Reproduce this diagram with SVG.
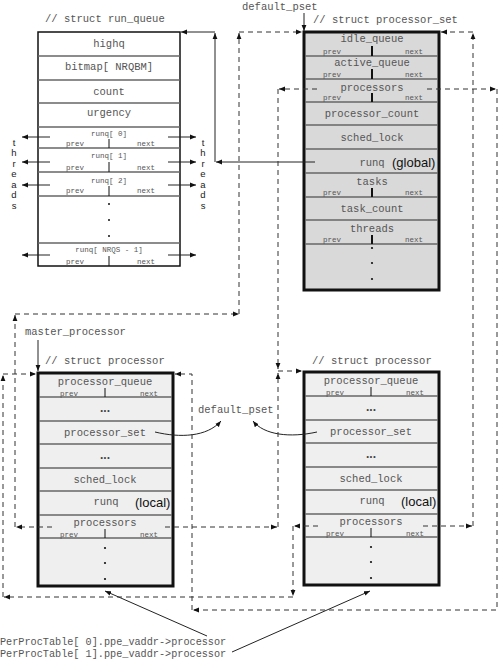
<svg xmlns="http://www.w3.org/2000/svg" width="500" height="661" viewBox="0 0 500 661">
<style>
.m{font-family:"Liberation Mono",monospace;font-size:10.5px;fill:#555;text-anchor:middle}
.s{font-family:"Liberation Mono",monospace;font-size:7.5px;fill:#555}
.c{font-family:"Liberation Mono",monospace;font-size:10.5px;fill:#555}
.b{font-family:"Liberation Sans",sans-serif;font-size:13px;fill:#111}
.t{font-family:"Liberation Sans",sans-serif;font-size:9.5px;fill:#222;text-anchor:middle}
.e{font-family:"Liberation Sans",sans-serif;font-size:12px;font-weight:bold;fill:#444;text-anchor:middle}
.r{stroke:#666;stroke-width:1.5}
.d{stroke:#111;stroke-width:2}
.sl{stroke:#222;stroke-width:1;fill:none}
.dl{stroke:#333;stroke-width:1;fill:none;stroke-dasharray:5 4}
.dot{fill:#111}
</style>
<defs>
<marker id="a" viewBox="0 0 10 10" refX="10" refY="5" markerWidth="6" markerHeight="6" markerUnits="userSpaceOnUse" orient="auto"><path d="M0,1 L10,5 L0,9 z" fill="#111"/></marker>
</defs>

<g id="run_queue">
<text class="c" x="45" y="22">// struct run_queue</text>
<rect x="38" y="32" width="142" height="234" fill="#fff" stroke="#111" stroke-width="1.5"/>
<line class="r" x1="38" y1="56" x2="180" y2="56"/>
<line class="r" x1="38" y1="80" x2="180" y2="80"/>
<line class="r" x1="38" y1="103" x2="180" y2="103"/>
<line class="r" x1="38" y1="127" x2="180" y2="127"/>
<line class="r" x1="38" y1="148" x2="180" y2="148"/>
<line class="r" x1="38" y1="172" x2="180" y2="172"/>
<line class="r" x1="38" y1="196" x2="180" y2="196"/>
<line class="r" x1="38" y1="243" x2="180" y2="243"/>
<text class="m" x="109" y="47">highq</text>
<text class="m" x="109" y="70">bitmap[ NRQBM]</text>
<text class="m" x="109" y="95">count</text>
<text class="m" x="109" y="116">urgency</text>
<text class="s" x="109" y="136" text-anchor="middle">runq[ 0]</text>
<text class="s" x="66" y="146">prev</text><text class="s" x="155" y="146" text-anchor="end">next</text>
<line x1="109" y1="139" x2="109" y2="148" stroke="#111" stroke-width="1"/>
<text class="s" x="109" y="158" text-anchor="middle">runq[ 1]</text>
<text class="s" x="66" y="170">prev</text><text class="s" x="155" y="170" text-anchor="end">next</text>
<line x1="109" y1="162" x2="109" y2="172" stroke="#111" stroke-width="1"/>
<text class="s" x="109" y="183" text-anchor="middle">runq[ 2]</text>
<text class="s" x="66" y="193">prev</text><text class="s" x="155" y="193" text-anchor="end">next</text>
<line x1="109" y1="186" x2="109" y2="196" stroke="#111" stroke-width="1"/>
<circle class="dot" cx="109" cy="204" r="1"/><circle class="dot" cx="109" cy="220" r="1"/><circle class="dot" cx="109" cy="236" r="1"/>
<text class="s" x="109" y="252" text-anchor="middle">runq[ NRQS - 1]</text>
<text class="s" x="66" y="264">prev</text><text class="s" x="155" y="264" text-anchor="end">next</text>
<line x1="109" y1="256" x2="109" y2="266" stroke="#111" stroke-width="1"/>
<text class="t" x="14" y="145.5">t</text><text class="t" x="14" y="156">h</text><text class="t" x="14" y="166.5">r</text><text class="t" x="14" y="177">e</text><text class="t" x="14" y="187.5">a</text><text class="t" x="14" y="198">d</text><text class="t" x="14" y="208.5">s</text>
<text class="t" x="203" y="145.5">t</text><text class="t" x="203" y="156">h</text><text class="t" x="203" y="166.5">r</text><text class="t" x="203" y="177">e</text><text class="t" x="203" y="187.5">a</text><text class="t" x="203" y="198">d</text><text class="t" x="203" y="208.5">s</text>
</g>

<g id="processor_set">
<text class="c" x="242" y="10">default_pset</text>
<text class="c" x="313" y="23">// struct processor_set</text>
<rect x="304" y="32" width="135" height="258" fill="#d9d9d9" stroke="#111" stroke-width="3"/>
<line class="r" x1="305" y1="56" x2="438" y2="56"/>
<line class="r" x1="305" y1="79" x2="438" y2="79"/>
<line class="r" x1="305" y1="102" x2="438" y2="102"/>
<line class="r" x1="305" y1="125" x2="438" y2="125"/>
<line class="r" x1="305" y1="149" x2="438" y2="149"/>
<line class="r" x1="305" y1="173" x2="438" y2="173"/>
<line class="r" x1="305" y1="197" x2="438" y2="197"/>
<line class="r" x1="305" y1="220" x2="438" y2="220"/>
<line class="r" x1="305" y1="244" x2="438" y2="244"/>
<text class="m" x="372" y="42">idle_queue</text>
<text class="s" x="323" y="54">prev</text><text class="s" x="423" y="54" text-anchor="end">next</text>
<line class="d" x1="372" y1="46" x2="372" y2="56"/>
<text class="m" x="372" y="66">active_queue</text>
<text class="s" x="323" y="77">prev</text><text class="s" x="423" y="77" text-anchor="end">next</text>
<line class="d" x1="372" y1="69" x2="372" y2="79"/>
<text class="m" x="372" y="91">processors</text>
<text class="s" x="323" y="100">prev</text><text class="s" x="423" y="100" text-anchor="end">next</text>
<line class="d" x1="372" y1="93" x2="372" y2="102"/>
<text class="m" x="372" y="117">processor_count</text>
<text class="m" x="372" y="141">sched_lock</text>
<text class="m" x="372" y="166">runq</text>
<text class="b" x="392" y="167">(global)</text>
<text class="m" x="372" y="185">tasks</text>
<text class="s" x="323" y="195">prev</text><text class="s" x="423" y="195" text-anchor="end">next</text>
<line class="d" x1="372" y1="188" x2="372" y2="197"/>
<text class="m" x="372" y="212">task_count</text>
<text class="m" x="372" y="232">threads</text>
<text class="s" x="323" y="242">prev</text><text class="s" x="423" y="242" text-anchor="end">next</text>
<line class="d" x1="372" y1="235" x2="372" y2="244"/>
<circle class="dot" cx="372" cy="248" r="1.1"/><circle class="dot" cx="372" cy="263" r="1.1"/><circle class="dot" cx="372" cy="279" r="1.1"/>
</g>

<g id="processor0">
<text class="c" x="25" y="335">master_processor</text>
<text class="c" x="45" y="364">// struct processor</text>
<rect x="38" y="373" width="135" height="213" fill="#efefef" stroke="#111" stroke-width="3"/>
<line class="r" x1="39" y1="397" x2="172" y2="397"/>
<line class="r" x1="39" y1="421" x2="172" y2="421"/>
<line class="r" x1="39" y1="444" x2="172" y2="444"/>
<line class="r" x1="39" y1="468" x2="172" y2="468"/>
<line class="r" x1="39" y1="491" x2="172" y2="491"/>
<line class="r" x1="39" y1="515" x2="172" y2="515"/>
<line class="r" x1="39" y1="538" x2="172" y2="538"/>
<text class="m" x="105" y="385">processor_queue</text>
<text class="s" x="60" y="396">prev</text><text class="s" x="158" y="396" text-anchor="end">next</text>
<line x1="105" y1="388" x2="105" y2="397" stroke="#111" stroke-width="1"/>
<text class="e" x="105" y="412">...</text>
<text class="m" x="105" y="436">processor_set</text>
<text class="e" x="105" y="459">...</text>
<text class="m" x="105" y="483">sched_lock</text>
<text class="m" x="106" y="505">runq</text>
<text class="b" x="135" y="507">(local)</text>
<text class="m" x="105" y="526">processors</text>
<text class="s" x="60" y="537">prev</text><text class="s" x="158" y="537" text-anchor="end">next</text>
<line x1="105" y1="529" x2="105" y2="538" stroke="#111" stroke-width="1"/>
<circle class="dot" cx="105" cy="548" r="1.1"/><circle class="dot" cx="105" cy="563" r="1.1"/><circle class="dot" cx="105" cy="579" r="1.1"/>
</g>

<g id="processor1">
<text class="c" x="312" y="364">// struct processor</text>
<rect x="304" y="372" width="135" height="213" fill="#efefef" stroke="#111" stroke-width="3"/>
<line class="r" x1="305" y1="396" x2="438" y2="396"/>
<line class="r" x1="305" y1="420" x2="438" y2="420"/>
<line class="r" x1="305" y1="443" x2="438" y2="443"/>
<line class="r" x1="305" y1="467" x2="438" y2="467"/>
<line class="r" x1="305" y1="490" x2="438" y2="490"/>
<line class="r" x1="305" y1="514" x2="438" y2="514"/>
<line class="r" x1="305" y1="537" x2="438" y2="537"/>
<text class="m" x="371" y="384">processor_queue</text>
<text class="s" x="326" y="395">prev</text><text class="s" x="424" y="395" text-anchor="end">next</text>
<line x1="371" y1="387" x2="371" y2="396" stroke="#111" stroke-width="1"/>
<text class="e" x="371" y="411">...</text>
<text class="m" x="371" y="435">processor_set</text>
<text class="e" x="371" y="458">...</text>
<text class="m" x="371" y="482">sched_lock</text>
<text class="m" x="372" y="504">runq</text>
<text class="b" x="401" y="506">(local)</text>
<text class="m" x="371" y="525">processors</text>
<text class="s" x="326" y="536">prev</text><text class="s" x="424" y="536" text-anchor="end">next</text>
<line x1="371" y1="528" x2="371" y2="537" stroke="#111" stroke-width="1"/>
<circle class="dot" cx="371" cy="547" r="1.1"/><circle class="dot" cx="371" cy="562" r="1.1"/><circle class="dot" cx="371" cy="578" r="1.1"/>
</g>

<g id="labels">
<text class="c" x="198" y="413">default_pset</text>
<text class="c" x="0" y="645" style="font-size:10.2px">PerProcTable[ 0].ppe_vaddr-&gt;processor</text>
<text class="c" x="0" y="657" style="font-size:10.2px">PerProcTable[ 1].ppe_vaddr-&gt;processor</text>
</g>

<g id="connectors">
<path class="sl" d="M50,137 H22" marker-end="url(#a)"/>
<path class="sl" d="M168,137 H196" marker-end="url(#a)"/>
<path class="sl" d="M50,162 H22" marker-end="url(#a)"/>
<path class="sl" d="M168,162 H196" marker-end="url(#a)"/>
<path class="sl" d="M50,185 H22" marker-end="url(#a)"/>
<path class="sl" d="M168,185 H196" marker-end="url(#a)"/>
<path class="sl" d="M50,255 H22" marker-end="url(#a)"/>
<path class="sl" d="M168,255 H196" marker-end="url(#a)"/>
<path class="sl" d="M315,162 H216" marker-end="url(#a)"/>
<path class="sl" d="M215,162 V33" marker-end="url(#a)"/>
<path class="sl" d="M215,32 H181" marker-end="url(#a)"/>
<path class="sl" d="M304,13 V31" marker-end="url(#a)"/>
<path class="sl" d="M38,340 V371" marker-end="url(#a)"/>
<path class="sl" d="M155,432 C180,438 207,437 221,421" marker-end="url(#a)"/>
<path class="sl" d="M317,432 C290,438 264,435 253,421" marker-end="url(#a)"/>
<path class="sl" d="M207,636 L105,591" marker-end="url(#a)"/>
<path class="sl" d="M232,652 L370,591" marker-end="url(#a)"/>
<path class="dl" d="M52,527 H16" marker-end="url(#a)"/>
<path class="dl" d="M15,527 V315" marker-end="url(#a)"/>
<path class="dl" d="M15,314 H239" marker-end="url(#a)"/>
<path class="dl" d="M239,314 V33" marker-end="url(#a)"/>
<path class="dl" d="M239,32 H302" marker-end="url(#a)"/>
<path class="dl" d="M317,89 H279" marker-end="url(#a)"/>
<path class="dl" d="M278,89 V369" marker-end="url(#a)"/>
<path class="dl" d="M278,371 H302" marker-end="url(#a)"/>
<path class="dl" d="M165,527 H277" marker-end="url(#a)"/>
<path class="dl" d="M278,527 V373" marker-end="url(#a)"/>
<path class="dl" d="M427,89 H496" marker-end="url(#a)"/>
<path class="dl" d="M497,89 V610 H193" marker-end="url(#a)"/>
<path class="dl" d="M192,610 V374 H175" marker-end="url(#a)"/>
<path class="dl" d="M318,526 H294" marker-end="url(#a)"/>
<path class="dl" d="M293,526 V596" marker-end="url(#a)"/>
<path class="dl" d="M293,597 H4" marker-end="url(#a)"/>
<path class="dl" d="M3,597 V375" marker-end="url(#a)"/>
<path class="dl" d="M3,374 H36" marker-end="url(#a)"/>
<path class="dl" d="M423,526 H472" marker-end="url(#a)"/>
<path class="dl" d="M473,526 V33" marker-end="url(#a)"/>
<path class="dl" d="M473,32 H441" marker-end="url(#a)"/>
</g>
</svg>
